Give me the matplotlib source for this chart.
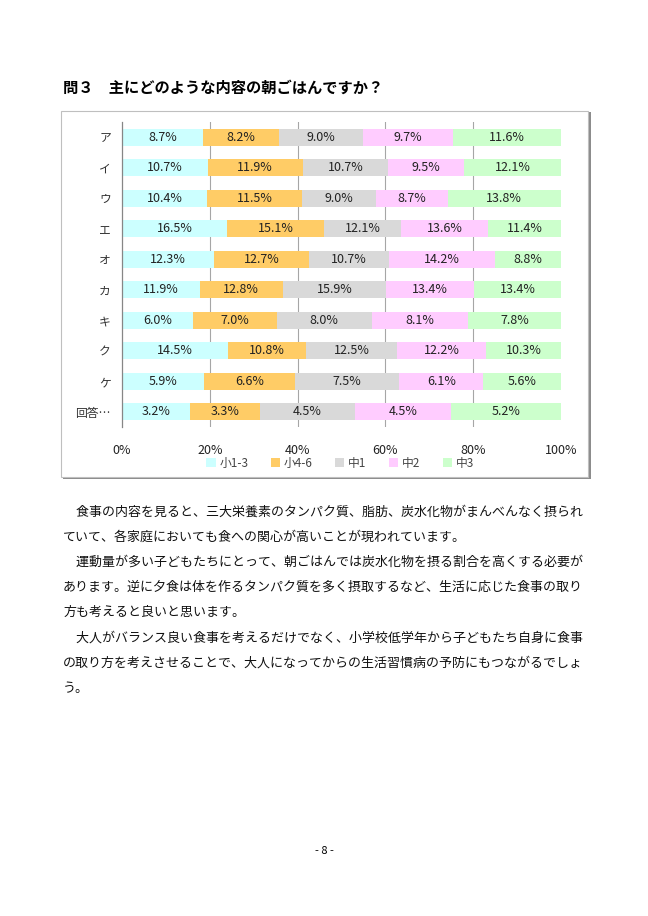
import matplotlib
matplotlib.use("Agg")
import matplotlib.pyplot as plt
from matplotlib.patches import Rectangle
import numpy as np

plt.rcParams['font.family'] = ['Noto Sans CJK JP', 'DejaVu Sans']

# data (top to bottom as shown)
categories = ['ア', 'イ', 'ウ', 'エ', 'オ', 'カ', 'キ', 'ク', 'ケ', '回答…']
series_names = ['小1-3', '小4-6', '中1', '中2', '中3']
s13 = [8.7, 10.7, 10.4, 16.5, 12.3, 11.9, 6.0, 14.5, 5.9, 3.2]
s46 = [8.2, 11.9, 11.5, 15.1, 12.7, 12.8, 7.0, 10.8, 6.6, 3.3]
c1 = [9.0, 10.7, 9.0, 12.1, 10.7, 15.9, 8.0, 12.5, 7.5, 4.5]
c2 = [9.7, 9.5, 8.7, 13.6, 14.2, 13.4, 8.1, 12.2, 6.1, 4.5]
c3 = [11.6, 12.1, 13.8, 11.4, 8.8, 13.4, 7.8, 10.3, 5.6, 5.2]
colors = ['#CCFFFF', '#FFCC66', '#D9D9D9', '#FFCCFF', '#CCFFCC']

title = '問３　主にどのような内容の朝ごはんですか？'
body_lines = [
    '　食事の内容を見ると、三大栄養素のタンパク質、脂肪、炭水化物がまんべんなく摂られ',
    'ていて、各家庭においても食への関心が高いことが現われています。',
    '　運動量が多い子どもたちにとって、朝ごはんでは炭水化物を摂る割合を高くする必要が',
    'あります。逆に夕食は体を作るタンパク質を多く摂取するなど、生活に応じた食事の取り',
    '方も考えると良いと思います。',
    '　大人がバランス良い食事を考えるだけでなく、小学校低学年から子どもたち自身に食事',
    'の取り方を考えさせることで、大人になってからの生活習慣病の予防にもつながるでしょ',
    'う。',
]

W, H = 648, 916
fig = plt.figure(figsize=(W / 100, H / 100), dpi=100)


def fx(px):
    return px / W


def fy(py):
    return 1 - py / H


# title
fig.text(fx(63), fy(88), title, fontsize=11, fontweight='bold', va='center', ha='left')

# chart frame with shadow
fig.patches.append(Rectangle((fx(63), fy(479)), fx(528), 367 / H, transform=fig.transFigure,
                             facecolor='#8c8c8c', edgecolor='none', zorder=0))
fig.patches.append(Rectangle((fx(61), fy(477)), fx(527), 366 / H, transform=fig.transFigure,
                             facecolor='white', edgecolor='#bfbfbf', lw=0.8, zorder=0.5))

ax = fig.add_axes([fx(122), fy(427), fx(561 - 122), (427 - 122) / H])
ax.set_zorder(1)
ax.patch.set_alpha(0)

data = np.array([s13, s46, c1, c2, c3])
totals = data.sum(axis=0)
shares = data / totals * 100
y = np.arange(len(categories))
left = np.zeros(len(categories))
for i, name in enumerate(series_names):
    ax.barh(y, shares[i], left=left, height=0.57, color=colors[i], label=name, zorder=2)
    for j in range(len(categories)):
        ax.text(left[j] + shares[i][j] / 2, y[j], f'{data[i][j]:.1f}%', ha='center', va='center',
                fontsize=9, color='#222222', zorder=3)
    left += shares[i]

ax.set_xlim(0, 100)
ax.set_ylim(len(categories) - 0.5, -0.5)
ax.set_yticks(y)
ax.set_yticklabels(categories, fontsize=8.5, color='#333333')
ax.set_xticks([0, 20, 40, 60, 80, 100])
ax.set_xticklabels(['0%', '20%', '40%', '60%', '80%', '100%'], fontsize=9, color='#222222')
ax.tick_params(axis='both', length=0)
ax.tick_params(axis='x', pad=12)
ax.tick_params(axis='y', pad=8)
for x in [20, 40, 60, 80]:
    ax.axvline(x, color='#a6a6a6', lw=0.8, zorder=1)
for s in ['top', 'right', 'bottom']:
    ax.spines[s].set_visible(False)
ax.spines['left'].set_color('#868686')
ax.spines['left'].set_linewidth(0.9)

fig.legend(loc='center', bbox_to_anchor=(fx(340), fy(463)), ncol=5, frameon=False,
           fontsize=8.5, handlelength=0.8, handleheight=0.8, handletextpad=0.3,
           columnspacing=1.9, labelcolor='#444444')

# body text
for k, line in enumerate(body_lines):
    fig.text(fx(63), fy(512 + k * 25.2), line, fontsize=9.35, va='center', ha='left', color='#111111')

fig.text(fx(324), fy(851), '- 8 -', fontsize=8, ha='center', va='center')

fig.savefig('out.png', dpi=100)
